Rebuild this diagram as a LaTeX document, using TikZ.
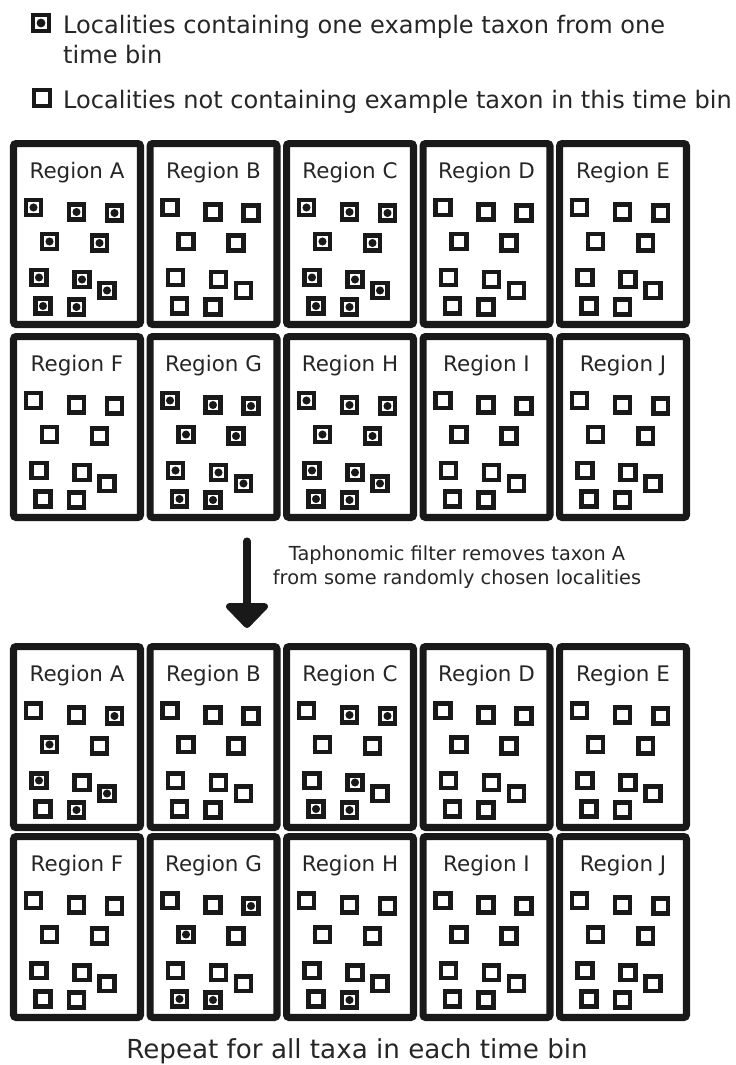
\documentclass[tikz,border=0pt]{standalone}
\usepackage{fontspec}
\setmainfont{DejaVu Sans}
\usetikzlibrary{arrows.meta}

\tikzset{
	regionbox/.style={draw=black!90, line width=4pt, rounded corners=1.5pt, inner sep=0pt, minimum width=2.54cm, minimum height=3.62cm},
	site/.style={draw=black!90, fill=white, line width=2.7pt, inner sep=0pt, minimum size=8.4pt},
	taxondot/.style={fill=black!90},
	regionlabel/.style={anchor=base, text=black!85, font=\fontsize{12.2}{14}\selectfont},
	keytext/.style={anchor=base west, align=left, text=black!85, font=\fontsize{13.7}{17}\selectfont},
}

\begin{document}
\begin{tikzpicture}[x=0.02cm, y=-0.02cm]
	\useasboundingbox (0,0) rectangle (735,1065);

	% key
	\node[site, minimum size=9pt] (key-full) at (41,23) {};
	\fill[taxondot] (key-full) circle[radius=2.5pt];
	\node[keytext] (key-full-text) at (57,63) {Localities containing one example taxon from one\\time bin};
	\node[site, minimum size=9pt] (key-empty) at (42,98) {};
	\node[keytext] (key-empty-text) at (57,108) {Localities not containing example taxon in this time bin};

	% the ten regions, before and after the filter
	\def\sitepattern{1/23.5/67.5, 2/66.5/72, 3/104.5/73, 4/39.5/101.5, 5/89.5/103, 6/29/137.5, 7/72/139.5, 8/97/150.5, 9/33/166, 10/66.5/167}
	\foreach \panel/\ya/\yb in {before/140/333, after/643/833} {
		\foreach \name/\col/\row in {A/0/0, B/1/0, C/2/0, D/3/0, E/4/0, F/0/1, G/1/1, H/2/1, I/3/1, J/4/1} {
			\pgfmathsetmacro\rleft{10+136.5*\col}
			\pgfmathsetmacro\rtop{\ya+(\yb-\ya)*\row}
			\node[regionbox] (\panel-\name) at (\rleft+67, \rtop+94) {};
			\node[regionlabel] (\panel-\name-label) at (\rleft+67, \rtop+38) {Region \name};
			\foreach \k/\dx/\dy in \sitepattern
				\node[site] (\panel-\name-\k) at (\rleft+\dx, \rtop+\dy) {};
		}
	}

	% localities that hold the taxon
	\foreach \panel/\name/\full in {before/A/{1,...,10}, before/C/{1,...,10}, before/G/{1,...,10}, before/H/{1,...,10},
			after/A/{3,4,6,8,10}, after/C/{2,3,7,9,10}, after/G/{3,4,9,10}, after/H/{10}}
		\foreach \s in \full
			\fill[taxondot] (\panel-\name-\s) circle[radius=2.3pt];

	% filter step
	\coordinate (filter-start) at (247,541);
	\coordinate (filter-end) at (247,628);
	\draw[black!90, line width=4pt, line cap=round, -{Triangle[width=28pt, length=15pt, round]}] (filter-start) -- (filter-end);
	\node[align=center, text=black!85, font=\fontsize{11}{13.6}\selectfont] (filter-text) at (457,567) {Taphonomic filter removes taxon A\\from some randomly chosen localities};

	\node[anchor=base, text=black!85, font=\fontsize{14.9}{17}\selectfont] (repeat-text) at (357,1058) {Repeat for all taxa in each time bin};
\end{tikzpicture}
\end{document}
